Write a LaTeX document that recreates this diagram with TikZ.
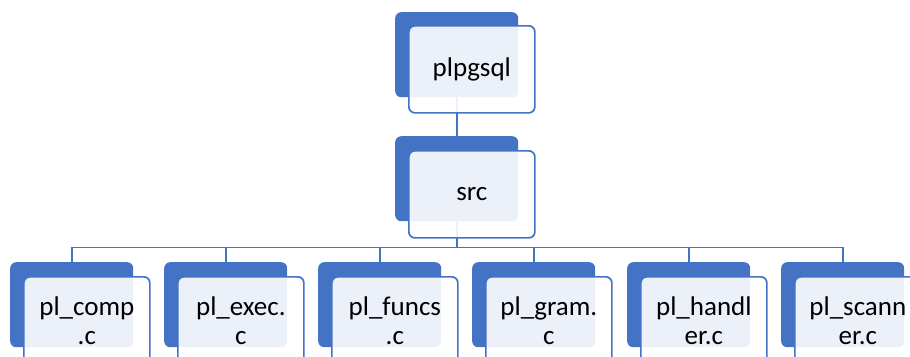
\documentclass[tikz,border=0pt]{standalone}
\usepackage{fontspec}
\setmainfont{Carlito}
\definecolor{sablue}{HTML}{4472C4}
\tikzset{
 backbox/.style={draw=none, fill=sablue, rounded corners=6pt, minimum width=123pt, minimum height=85pt, anchor=north west, inner sep=0pt},
 frontbox/.style={draw=sablue, line width=1.7pt, fill=white, fill opacity=0.9, text opacity=1, rounded corners=6pt, minimum width=126pt, minimum height=87pt, anchor=north west, inner sep=0pt, align=center, font=\fontsize{27}{29}\selectfont},
 link/.style={draw=sablue, line width=1.7pt}
}
\begin{document}
\begin{tikzpicture}[x=1pt,y=-1pt]
\useasboundingbox (0,0) rectangle (910,356);
\clip (0,0) rectangle (910,356);
% back boxes
\node[backbox] (topd) at (395,12) {};
\node[backbox] (srcd) at (395,136) {};
\node[backbox] (c1d) at (10,262) {};
\node[backbox] (c2d) at (164,262) {};
\node[backbox] (c3d) at (318,262) {};
\node[backbox] (c4d) at (472,262) {};
\node[backbox] (c5d) at (627,262) {};
\node[backbox] (c6d) at (781,262) {};
% connectors
\draw[link] (topd.south) -- (srcd.north);
\foreach \c in {c1d,c2d,c3d,c4d,c5d,c6d}
  \draw[link] (srcd.south) -- ++(0,26) -| (\c.north);
% front boxes
\node[frontbox] (top) at (408,25) {plpgsql};
\node[frontbox] (src) at (408,150) {src};
\node[frontbox] (c1) at (23,276) {pl\_comp\\.c};
\node[frontbox] (c2) at (177,276) {pl\_exec.\\c};
\node[frontbox] (c3) at (331,276) {pl\_funcs\\.c};
\node[frontbox] (c4) at (485,276) {pl\_gram.\\c};
\node[frontbox] (c5) at (640,276) {pl\_handl\\er.c};
\node[frontbox] (c6) at (794,276) {pl\_scann\\er.c};
\end{tikzpicture}
\end{document}
